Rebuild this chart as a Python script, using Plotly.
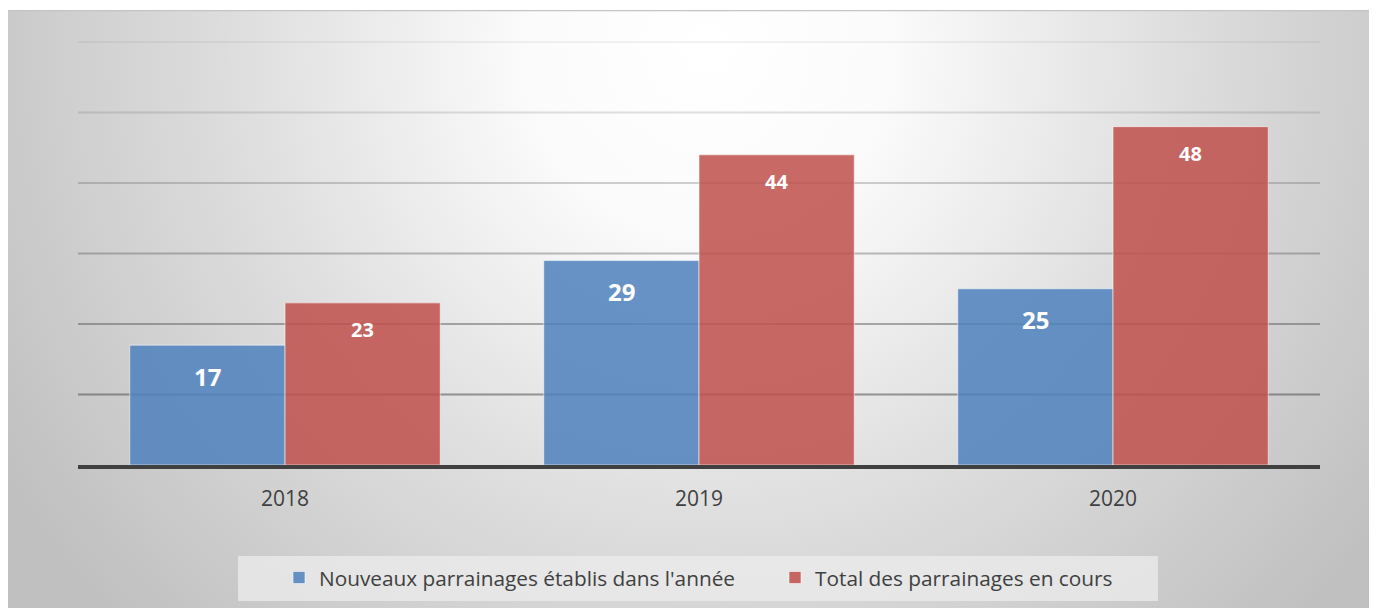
import base64
import plotly.graph_objects as go

# ---- data ----
years = ["2018", "2019", "2020"]
nouveaux = [17, 29, 25]
total = [23, 44, 48]
series_names = ["Nouveaux parrainages établis dans l'année", "Total des parrainages en cours"]
grid_values = [10, 20, 30, 40, 50, 60]

W, H = 1377, 608
OFF = 8  # page body margin: figure pixel (0,0) appears at screen (8,8)
L, R, T, B = 70, 65, 33, 151
pw, ph = W - L - R, H - T - B


def sx(px):  # screen x -> paper x
    return (px - OFF - L) / pw


def sy(py):  # screen y -> paper y
    return (H - B - (py - OFF)) / ph


svg = '''<svg xmlns="http://www.w3.org/2000/svg" width="1377" height="606" viewBox="0 0 1377 606" preserveAspectRatio="none">
<defs><radialGradient id="g" gradientUnits="userSpaceOnUse" cx="700" cy="40" r="820">
<stop offset="0" stop-color="#ffffff"/>
<stop offset="0.22" stop-color="#fbfbfb"/>
<stop offset="0.6" stop-color="#dcdcdc"/>
<stop offset="1" stop-color="#c0c0c0"/>
</radialGradient></defs>
<rect x="0" y="0" width="1377" height="606" fill="url(#g)"/>
<line x1="0" y1="0.5" x2="1377" y2="0.5" stroke="#c4c4c4" stroke-width="1.5"/>
</svg>'''
svg_uri = "data:image/svg+xml;base64," + base64.b64encode(svg.encode()).decode()

fig = go.Figure()
fig.add_trace(go.Bar(
    x=years, y=nouveaux, name=series_names[0],
    marker=dict(color="rgba(79,129,189,0.86)", line=dict(color="rgba(255,255,255,0.55)", width=1)),
    hoverinfo="x+y",
))
fig.add_trace(go.Bar(
    x=years, y=total, name=series_names[1],
    marker=dict(color="rgba(192,80,77,0.86)", line=dict(color="rgba(255,255,255,0.55)", width=1)),
    hoverinfo="x+y",
))

annotations = []
for i, v in enumerate(nouveaux):
    annotations.append(dict(x=i - 0.1875, y=v, xref="x", yref="y", text=str(v), showarrow=False,
                            yshift=-31, font=dict(family="Open Sans", size=24, color="white", weight="bold")))
for i, v in enumerate(total):
    annotations.append(dict(x=i + 0.1875, y=v, xref="x", yref="y", text=str(v), showarrow=False,
                            yshift=-27, font=dict(family="Open Sans", size=20, color="white", weight="bold")))

shapes = [dict(type="rect", xref="paper", yref="paper",
               x0=sx(238), x1=sx(1158), y0=sy(556), y1=sy(601),
               fillcolor="rgba(236,236,236,0.75)", line=dict(width=0), layer="below")]
# gridlines, fading towards the top
for gv in grid_values:
    a = 0.68 - 0.01 * gv
    shapes.append(dict(type="line", xref="paper", yref="y", x0=0, x1=1, y0=gv, y1=gv,
                       line=dict(color=f"rgba(85,85,85,{a:.2f})", width=2), layer="below"))

fig.update_layout(
    width=W, height=H,
    margin=dict(l=L, r=R, t=T, b=B, pad=0),
    paper_bgcolor="white",
    plot_bgcolor="rgba(0,0,0,0)",
    barmode="group", bargap=0.25, bargroupgap=0,
    showlegend=True,
    legend=dict(orientation="h", x=sx(279), xanchor="left", y=sy(578), yanchor="middle",
                bgcolor="rgba(0,0,0,0)", font=dict(family="Open Sans", size=20.8, color="#404040"),
                entrywidth=451, traceorder="normal", itemwidth=30),
    xaxis=dict(showgrid=False, showline=True, linecolor="#404040", linewidth=4,
               tickfont=dict(family="Open Sans", size=21, color="#404040"), ticks="", ticklabelstandoff=12),
    yaxis=dict(range=[0, 60.15], showticklabels=False, showgrid=False, zeroline=False, ticks=""),
    images=[dict(source=svg_uri, xref="paper", yref="paper",
                 x=sx(8), y=sy(10),
                 sizex=sx(8 + W) - sx(8), sizey=sy(10) - sy(8 + H),
                 xanchor="left", yanchor="top", sizing="stretch", layer="below")],
    shapes=shapes,
    annotations=annotations,
    hovermode="closest",
)

fig.write_html("out.html")
